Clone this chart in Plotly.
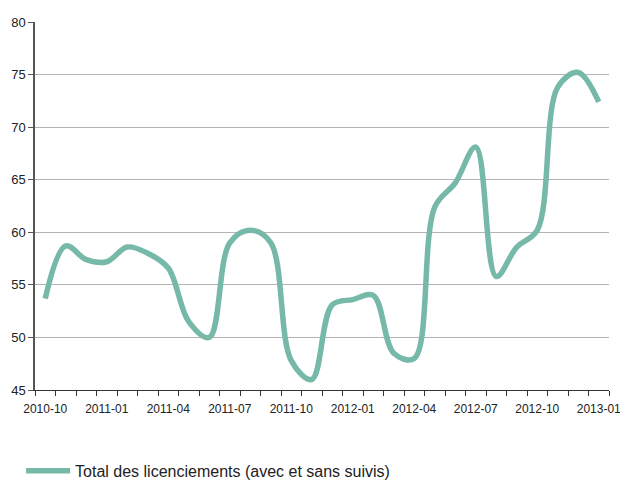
import plotly.graph_objects as go

months = ["2010-10", "2010-11", "2010-12", "2011-01", "2011-02", "2011-03", "2011-04",
          "2011-05", "2011-06", "2011-07", "2011-08", "2011-09", "2011-10", "2011-11",
          "2011-12", "2012-01", "2012-02", "2012-03", "2012-04", "2012-05", "2012-06",
          "2012-07", "2012-08", "2012-09", "2012-10", "2012-11", "2012-12", "2013-01"]
licenciements = [53.7, 58.7, 57.4, 57.2, 58.6, 58.0, 56.6,
                 51.5, 50.0, 59.0, 60.2, 59.0, 47.8, 46.0,
                 53.1, 53.6, 54.0, 48.5, 48.0, 62.4, 64.7,
                 68.1, 55.8, 58.6, 60.2, 73.8, 75.2, 72.4]
series_name = "Total des licenciements (avec et sans suivis)"
label_months = months[::3]

idx = list(range(len(months)))
label_pos = [months.index(m) for m in label_months]
boundaries = [i - 0.5 for i in range(len(months) + 1)]

fig = go.Figure()
fig.add_trace(go.Scatter(
    x=idx, y=licenciements, mode="lines", name=series_name,
    line=dict(color="#76b9a8", width=5.5, shape="spline", smoothing=1.0),
    showlegend=True,
))

fig.update_layout(
    width=620, height=483,
    margin=dict(l=35, r=11, t=22, b=93, autoexpand=False),
    paper_bgcolor="white", plot_bgcolor="white",
    font=dict(family="Liberation Sans, Arial, sans-serif", color="#222222"),
    showlegend=True,
    legend=dict(
        orientation="h", xref="container", yref="container",
        x=0.034, y=0.025, xanchor="left", yanchor="middle",
        font=dict(size=16, color="#222222"), itemwidth=44,
        bgcolor="rgba(0,0,0,0)",
    ),
)
fig.update_xaxes(
    range=[-0.5, len(months) - 0.5],
    tickmode="array", tickvals=label_pos, ticktext=label_months,
    ticks="", tickfont=dict(size=12), showgrid=False,
    ticklabeloverflow="allow", automargin=False, ticklabelstandoff=8,
    showline=True, linecolor="#333333", linewidth=1,
    zeroline=False,
    minor=dict(tickmode="array", tickvals=boundaries, ticks="outside", ticklen=5,
               tickcolor="#333333", tickwidth=1, showgrid=False),
)
fig.update_yaxes(
    range=[45, 80], dtick=5, tick0=45,
    ticks="outside", ticklen=5, tickcolor="#555555",
    tickfont=dict(size=13), automargin=False,
    showgrid=True, gridcolor="#b4b4b4", gridwidth=1,
    showline=True, linecolor="#555555", linewidth=1.5,
    zeroline=False,
)

fig.write_html("out.html", config={"displayModeBar": False},
               post_script="document.body.style.margin='0';")
